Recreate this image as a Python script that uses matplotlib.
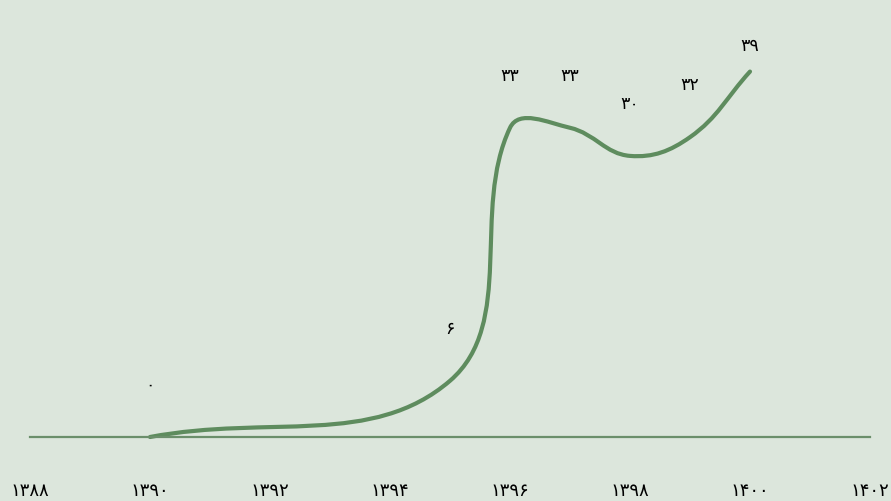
import numpy as np
import matplotlib.pyplot as plt
from matplotlib.path import Path
from matplotlib.patches import PathPatch

plt.rcParams['font.family'] = ['DejaVu Sans']

# data
years = [1390, 1395, 1396, 1397, 1398, 1399, 1400]
values = [0, 6, 33, 33, 30, 32, 39]
tick_years = [1388, 1390, 1392, 1394, 1396, 1398, 1400, 1402]

PERSIAN = str.maketrans('0123456789', '۰۱۲۳۴۵۶۷۸۹')


def fa(n):
    return str(n).translate(PERSIAN)


def spline_controls(pts, tension=0.4):
    # chart.js style control points, computed in pixel space
    ctrl = []
    n = len(pts)
    for i in range(n):
        cur = pts[i]
        prev = pts[i - 1] if i > 0 else cur
        nxt = pts[i + 1] if i < n - 1 else cur
        d01 = np.hypot(*(cur - prev))
        d12 = np.hypot(*(nxt - cur))
        tot = d01 + d12
        s01 = d01 / tot if tot else 0
        s12 = d12 / tot if tot else 0
        c_prev = cur - tension * s01 * (nxt - prev)
        c_next = cur + tension * s12 * (nxt - prev)
        ctrl.append((c_prev, c_next))
    return ctrl


bg = '#dce6dc'
line_color = '#5e8c5e'

fig = plt.figure(figsize=(8.91, 5.02), dpi=100, facecolor=bg)
ax = fig.add_axes([30 / 891, 64 / 502, 840 / 891, 418 / 502])
ax.set_facecolor(bg)
ax.set_xlim(1388, 1402)
ax.set_ylim(0, 418 / 9.37)

for s in ['top', 'right', 'left']:
    ax.spines[s].set_visible(False)
ax.spines['bottom'].set_color('#6b8f6b')
ax.spines['bottom'].set_linewidth(1.6)
ax.set_yticks([])
ax.set_xticks(tick_years)
ax.set_xticklabels([fa(y) for y in tick_years], fontsize=13)
ax.tick_params(axis='x', length=0, pad=32)

# smooth curve built in display coords then mapped back
pix = ax.transData.transform(np.column_stack([years, values]))
ctrl = spline_controls(pix)
verts = [pix[0]]
codes = [Path.MOVETO]
for i in range(len(pix) - 1):
    verts += [ctrl[i][1], ctrl[i + 1][0], pix[i + 1]]
    codes += [Path.CURVE4] * 3
verts = ax.transData.inverted().transform(np.array(verts))
ax.add_patch(PathPatch(Path(verts, codes), fill=False, edgecolor=line_color,
                       lw=3, capstyle='round', clip_on=False))

# value labels above the points, kept inside the top of the chart
top_px = ax.transData.transform((1388, ax.get_ylim()[1]))[1]
for x, v, p in zip(years, values, pix):
    ly = min(p[1] + 53, top_px - 26)
    ax.annotate(fa(v), xy=(x, v), xytext=(p[0], ly), textcoords='figure pixels',
                ha='center', va='center', fontsize=12.5, color='black')

fig.savefig('out.png', dpi=100, facecolor=bg)
